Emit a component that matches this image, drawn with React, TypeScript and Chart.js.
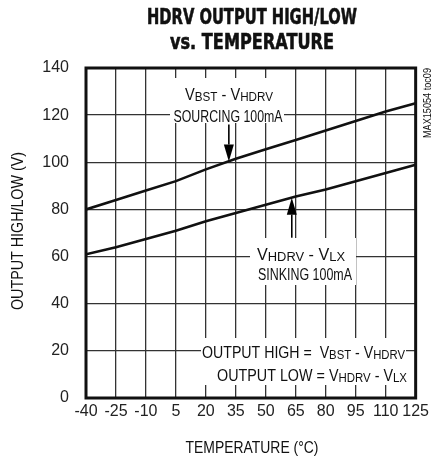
import React, { useEffect, useRef } from "react";
import { Chart, registerables } from "chart.js";

Chart.register(...registerables);

const temps = [-40, -25, -10, 5, 20, 35, 50, 65, 80, 95, 110, 125];
const outputHigh = [80, 84, 88, 92, 97, 101.5, 105.5, 109.5, 113.5, 117.5, 121.5, 125];
const outputLow = [61, 64, 67.5, 71, 75, 78.5, 82, 85.5, 88.5, 92, 95.5, 99];

const F = "'Liberation Sans Narrow','Arial Narrow','Liberation Sans',sans-serif";
const TF = "'DejaVu Sans','Liberation Sans',sans-serif";

type Part = [string, boolean];

function drawRich(ctx: CanvasRenderingContext2D, parts: Part[], x: number, y: number, align: string, size: number, target: number) {
  const big = `${size}px ${F}`;
  const small = `${size * 0.8}px ${F}`;
  const widths = parts.map(([t, s]) => {
    ctx.font = s ? small : big;
    return ctx.measureText(t).width;
  });
  const total = widths.reduce((a, b) => a + b, 0);
  const sx = target / total;
  const start = align === "center" ? x - target / 2 : align === "right" ? x - target : x;
  ctx.save();
  ctx.translate(start, y);
  ctx.scale(sx, 1);
  ctx.textAlign = "left";
  ctx.textBaseline = "alphabetic";
  let cx = 0;
  parts.forEach(([t, s], i) => {
    ctx.font = s ? small : big;
    ctx.fillText(t, cx, s ? 1.2 : 0);
    cx += widths[i];
  });
  ctx.restore();
}

function fitText(ctx: CanvasRenderingContext2D, text: string, cx: number, cy: number, width: number, font: string, rot = 0, stroke = 0) {
  ctx.save();
  ctx.font = font;
  ctx.textAlign = "center";
  ctx.textBaseline = "alphabetic";
  const w = ctx.measureText(text).width;
  ctx.translate(cx, cy);
  ctx.rotate(rot);
  ctx.scale(width / w, 1);
  ctx.fillText(text, 0, 0);
  if (stroke > 0) {
    ctx.lineWidth = stroke;
    ctx.strokeStyle = ctx.fillStyle as string;
    ctx.strokeText(text, 0, 0);
  }
  ctx.restore();
}

function arrow(ctx: CanvasRenderingContext2D, x: number, yTail: number, yTip: number) {
  const dir = yTip > yTail ? 1 : -1;
  const headLen = 17;
  const half = 5;
  ctx.save();
  ctx.strokeStyle = "#000";
  ctx.fillStyle = "#000";
  ctx.lineWidth = 1.6;
  ctx.beginPath();
  ctx.moveTo(x, yTail);
  ctx.lineTo(x, yTip - dir * headLen);
  ctx.stroke();
  ctx.beginPath();
  ctx.moveTo(x, yTip);
  ctx.lineTo(x - half, yTip - dir * headLen);
  ctx.lineTo(x + half, yTip - dir * headLen);
  ctx.closePath();
  ctx.fill();
  ctx.restore();
}

const deco = {
  id: "deco",
  beforeDatasetsDraw(chart: any) {
    const ctx = chart.ctx as CanvasRenderingContext2D;
    ctx.save();
    ctx.fillStyle = "#fff";
    ctx.fillRect(170, 78, 114, 45);
    ctx.fillRect(250, 238, 106, 47);
    ctx.fillRect(201, 338, 205, 47);
    ctx.restore();
  },
  afterDatasetsDraw(chart: any) {
    const ctx = chart.ctx as CanvasRenderingContext2D;
    const { left, right, top, bottom } = chart.chartArea;
    const xs = chart.scales.x;
    const ys = chart.scales.y;
    ctx.save();
    ctx.strokeStyle = "#111";
    ctx.lineWidth = 3;
    ctx.strokeRect(left, top, right - left, bottom - top);

    ctx.fillStyle = "#111";
    // Title
    fitText(ctx, "HDRV OUTPUT HIGH/LOW", 252, 23.5, 210, `bold 20.5px ${TF}`, 0, 0.6);
    fitText(ctx, "vs. TEMPERATURE", 252, 48.5, 164, `bold 20.5px ${TF}`, 0, 0.6);
    // Axis titles
    fitText(ctx, "TEMPERATURE (°C)", 252, 453, 133, `17px ${F}`);
    fitText(ctx, "OUTPUT HIGH/LOW (V)", 23, 231, 158, `17px ${F}`, -Math.PI / 2);
    // side code
    fitText(ctx, "MAX15054 toc09", 431, 103, 70, `10px ${F}`, -Math.PI / 2);

    // annotations
    drawRich(ctx, [["V", false], ["BST", true], [" - V", false], ["HDRV", true]], 229, 100, "center", 16.5, 88);
    drawRich(ctx, [["SOURCING 100mA", false]], 228, 121.5, "center", 16, 109);
    drawRich(ctx, [["V", false], ["HDRV", true], [" - V", false], ["LX", true]], 301, 260, "center", 16.5, 88);
    drawRich(ctx, [["SINKING 100mA", false]], 305, 280, "center", 16, 94);
    drawRich(ctx, [["OUTPUT HIGH =  V", false], ["BST", true], [" - V", false], ["HDRV", true]], 405, 358, "right", 16.5, 203);
    drawRich(ctx, [["OUTPUT LOW = V", false], ["HDRV", true], [" - V", false], ["LX", true]], 407, 380.5, "right", 16.5, 190);

    arrow(ctx, xs.getPixelForValue(31.5), ys.getPixelForValue(116), ys.getPixelForValue(100.3));
    arrow(ctx, xs.getPixelForValue(63), ys.getPixelForValue(68), ys.getPixelForValue(85));
    ctx.restore();
  },
};

export default function App() {
  const ref = useRef<HTMLCanvasElement | null>(null);
  useEffect(() => {
    if (!ref.current) return;
    const chart = new Chart(ref.current, {
      type: "line",
      data: {
        labels: temps,
        datasets: [
          {
            label: "Output High",
            data: temps.map((t, i) => ({ x: t, y: outputHigh[i] })),
            borderColor: "#111",
            borderWidth: 2.6,
            pointRadius: 0,
            tension: 0,
          },
          {
            label: "Output Low",
            data: temps.map((t, i) => ({ x: t, y: outputLow[i] })),
            borderColor: "#111",
            borderWidth: 2.6,
            pointRadius: 0,
            tension: 0,
          },
        ],
      },
      options: {
        animation: false,
        responsive: false,
        devicePixelRatio: 1,
        layout: { padding: { top: 68, right: 17, left: 0, bottom: 0 } },
        plugins: { legend: { display: false }, tooltip: { enabled: false }, title: { display: false } },
        scales: {
          x: {
            type: "linear",
            min: -40,
            max: 125,
            afterFit: (s: any) => { s.height = 62; },
            ticks: { stepSize: 15, color: "#222", font: { family: F, size: 16 }, padding: 4, maxRotation: 0, autoSkip: false },
            grid: { color: "#333", lineWidth: 1.3, drawTicks: false },
            border: { display: false },
          },
          y: {
            min: 0,
            max: 140,
            afterFit: (s: any) => { s.width = 86; },
            ticks: { stepSize: 20, color: "#222", font: { family: F, size: 16 }, padding: 17 },
            grid: { color: "#333", lineWidth: 1.3, drawTicks: false },
            border: { display: false },
          },
        },
      },
      plugins: [deco],
    });
    return () => chart.destroy();
  }, []);
  return (
    <div style={{ position: "absolute", left: 0, top: 0, width: 433, height: 460, background: "#fff" }}>
      <canvas ref={ref} width={433} height={460} />
    </div>
  );
}
